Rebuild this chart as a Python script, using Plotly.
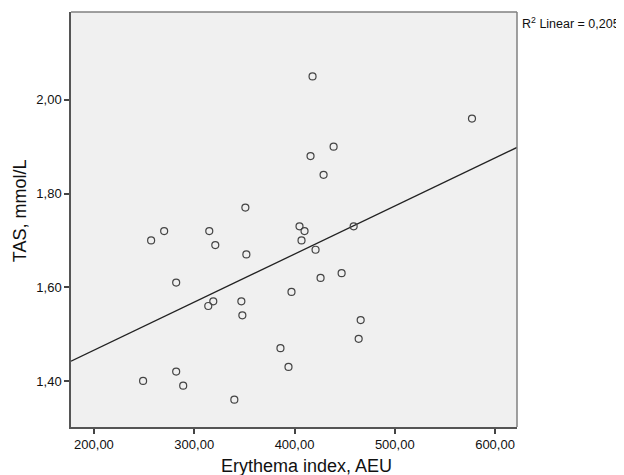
import numpy as np
import plotly.graph_objects as go

erythema_index = [418, 439, 416, 429, 351, 270, 315, 405, 410, 459, 407, 257,
                  577, 321, 352, 421, 282, 447, 426, 397, 319, 347, 314, 348,
                  386, 394, 282, 249, 289, 340, 466, 464]
tas = [2.05, 1.90, 1.88, 1.84, 1.77, 1.72, 1.72, 1.73, 1.72, 1.73, 1.70, 1.70,
       1.96, 1.69, 1.67, 1.68, 1.61, 1.63, 1.62, 1.59, 1.57, 1.57, 1.56, 1.54,
       1.47, 1.43, 1.42, 1.40, 1.39, 1.36, 1.53, 1.49]

x_tickvals = [200, 300, 400, 500, 600]
x_ticktext = ["200,00", "300,00", "400,00", "500,00", "600,00"]
y_tickvals = [1.40, 1.60, 1.80, 2.00]
y_ticktext = ["1,40", "1,60", "1,80", "2,00"]
x_title = "Erythema index, AEU"
y_title = "TAS, mmol/L"
r2_label = "R<sup>2</sup> Linear = 0,205"

x_range = [177.1, 621.9]
y_range = [1.3017, 2.1875]

slope, intercept = np.polyfit(erythema_index, tas, 1)
line_x = np.array(x_range)
line_y = intercept + slope * line_x

font = "Liberation Sans, Arial, Helvetica, sans-serif"

fig = go.Figure()
fig.add_trace(go.Scatter(x=line_x, y=line_y, mode="lines",
                         line=dict(color="#222222", width=1.3),
                         hoverinfo="skip", showlegend=False))
fig.add_trace(go.Scatter(x=erythema_index, y=tas, mode="markers",
                         marker=dict(symbol="circle-open", size=7,
                                     color="#444444", line=dict(width=1.2)),
                         showlegend=False))

# page body has an 8px default margin, so the figure is sized to fit
fig.update_layout(
    width=616, height=467,
    margin=dict(l=63, r=107, t=4, b=48),
    paper_bgcolor="white", plot_bgcolor="#f0f0f0",
    font=dict(family=font, color="#111111", size=13),
    xaxis=dict(range=x_range, tickvals=x_tickvals, ticktext=x_ticktext,
               automargin=False,
               showgrid=False, zeroline=False, showline=True,
               linecolor="#555555", linewidth=1.5,
               ticks="outside", ticklen=5, tickwidth=1.5, tickcolor="#444444",
               tickfont=dict(size=13)),
    yaxis=dict(range=y_range, tickvals=y_tickvals, ticktext=y_ticktext,
               automargin=False,
               showgrid=False, zeroline=False, showline=True,
               linecolor="#555555", linewidth=1.5,
               ticks="outside", ticklen=5, tickwidth=1.5, tickcolor="#444444",
               tickfont=dict(size=13)),
    shapes=[
        dict(type="line", xref="paper", yref="paper", x0=0, x1=1, y0=1, y1=1,
             line=dict(color="#808080", width=1.5)),
        dict(type="line", xref="paper", yref="paper", x0=1, x1=1, y0=0, y1=1,
             line=dict(color="#808080", width=1.5)),
    ],
    annotations=[
        dict(text=r2_label, xref="paper", yref="paper", x=1.0, y=1.0,
             xanchor="left", yanchor="top", xshift=3, yshift=-1,
             showarrow=False, font=dict(size=12.5, color="#111111")),
        dict(text=x_title, xref="paper", yref="paper", x=0.529, y=-0.094,
             xanchor="center", yanchor="middle", showarrow=False,
             font=dict(size=18, color="#111111")),
        dict(text=y_title, xref="paper", yref="paper", x=-0.1155, y=0.521,
             xanchor="center", yanchor="middle", textangle=-90,
             showarrow=False, font=dict(size=18, color="#111111")),
    ],
)

fig.write_html("out.html")
